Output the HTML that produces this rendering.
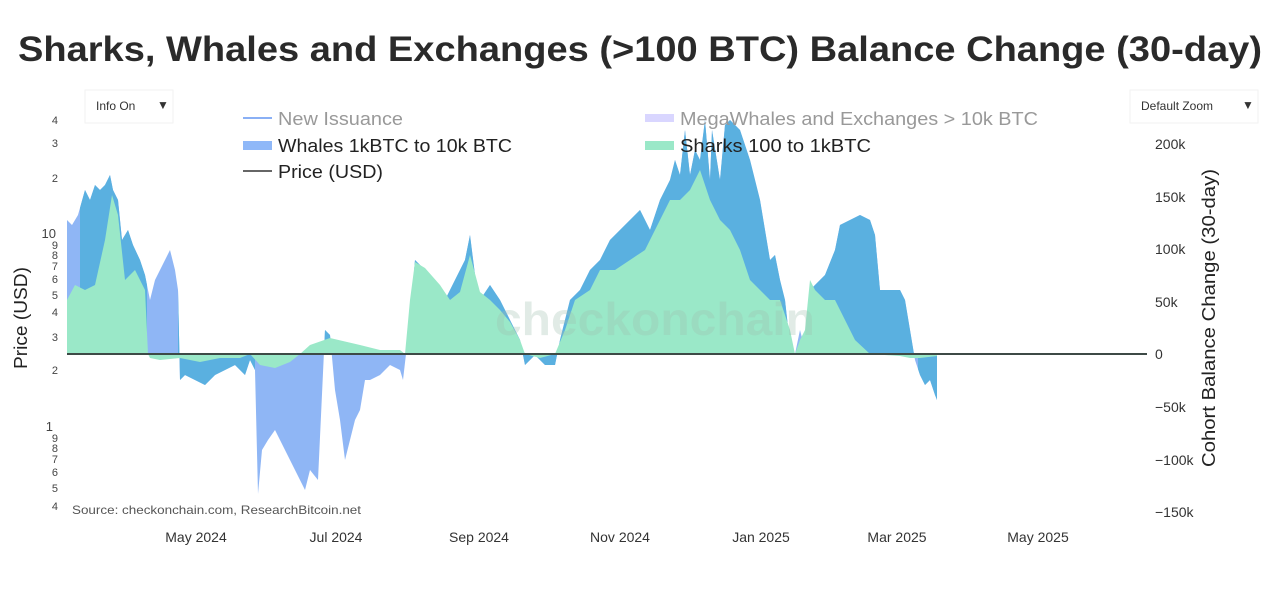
<!DOCTYPE html>
<html><head><meta charset="utf-8"><style>
body{margin:0;background:#fff;width:1280px;height:585px;overflow:hidden;font-family:"Liberation Sans",sans-serif}
</style></head><body>
<svg width="1280" height="585" xmlns="http://www.w3.org/2000/svg" font-family="Liberation Sans, sans-serif">
<defs>
<polygon id="wh" points="67,354 67,220 72,225 78,215 85,190 90,200 95,185 100,190 105,185 110,175 113,190 118,200 122,240 128,230 133,245 140,260 145,275 150,300 155,280 160,270 165,260 170,250 175,270 178,290 180,380 185,375 195,380 205,385 215,375 225,370 235,365 245,375 250,360 255,370 258,494 262,450 268,440 275,430 285,450 295,470 305,490 310,470 318,480 325,330 330,335 335,390 340,420 345,460 350,440 355,420 360,410 365,380 370,380 380,375 390,365 400,370 403,380 406,354 410,320 415,260 425,270 435,290 440,320 445,300 455,280 465,260 470,235 475,275 480,300 490,285 500,300 510,320 520,340 525,365 535,355 545,365 555,365 560,340 570,300 580,290 590,270 600,260 610,240 620,230 630,220 640,210 650,230 660,200 670,180 675,160 680,175 685,130 690,175 695,150 700,160 705,120 710,180 712,130 720,180 725,125 730,120 740,130 750,160 760,200 765,230 770,260 775,255 780,280 785,300 790,345 795,354 800,330 805,350 810,290 815,285 825,275 835,250 840,225 850,220 860,215 870,220 875,235 880,290 890,290 900,290 905,300 910,330 915,360 920,375 925,385 930,380 935,395 937,400 937,354"/>
<clipPath id="dk">
<rect x="80" y="0" width="67" height="354"/>
<rect x="178" y="0" width="77" height="600"/>
<rect x="255" y="0" width="540" height="354"/>
<rect x="515" y="0" width="50" height="600"/>
<rect x="808" y="0" width="110" height="354"/>
<rect x="918" y="0" width="20" height="600"/>
</clipPath>
</defs>
<text x="18" y="61" font-size="35" font-weight="bold" fill="#2a2a2a" textLength="1244" lengthAdjust="spacingAndGlyphs">Sharks, Whales and Exchanges (&gt;100 BTC) Balance Change (30-day)</text>
<rect x="85" y="90" width="88" height="33" fill="#fff" stroke="#f2f2f2"/>
<text x="96" y="110" font-size="12" fill="#333">Info On</text><text x="157" y="109" font-size="12" fill="#333">▼</text>
<rect x="1130" y="90" width="128" height="33" fill="#fff" stroke="#f2f2f2"/>
<text x="1141" y="110" font-size="12" fill="#333">Default Zoom</text><text x="1242" y="109" font-size="12" fill="#333">▼</text>
<use href="#wh" fill="#8fb6f5"/>
<use href="#wh" fill="#5ab0e0" clip-path="url(#dk)"/>
<polygon fill="#9ae8c8" points="67,354 67,300 75,285 85,290 95,285 105,240 112,195 118,215 125,280 135,270 145,290 148,354 150,358 160,360 180,358 200,362 220,358 240,358 250,354 260,365 275,368 290,362 300,354 310,345 330,338 360,345 380,350 400,350 405,354 410,300 415,262 425,268 440,285 450,300 460,292 470,255 480,292 490,300 500,310 510,322 520,340 525,354 540,358 555,354 565,330 575,300 590,290 600,270 615,270 630,260 645,250 660,220 670,200 680,200 690,190 700,170 710,200 720,220 730,230 740,250 750,280 760,290 770,300 780,300 790,330 795,354 800,340 805,330 810,280 815,290 825,300 835,300 845,320 855,340 870,354 900,356 910,358 920,358 937,356 937,354"/>
<text x="495" y="335" font-size="46" font-weight="bold" fill="#9fbfae" opacity="0.3" textLength="320" lengthAdjust="spacingAndGlyphs">checkonchain</text>
<line x1="67" y1="354" x2="1147" y2="354" stroke="#3d4a46" stroke-width="2"/>
<g font-size="11" fill="#444" text-anchor="end">
<text x="58" y="124">4</text><text x="58" y="147">3</text><text x="58" y="182">2</text>
<text x="56" y="238" font-size="13">10</text><text x="58" y="249">9</text><text x="58" y="259">8</text><text x="58" y="270">7</text><text x="58" y="283">6</text><text x="58" y="299">5</text><text x="58" y="316">4</text><text x="58" y="341">3</text><text x="58" y="374">2</text>
<text x="53" y="431" font-size="13">1</text><text x="58" y="442">9</text><text x="58" y="452">8</text><text x="58" y="463">7</text><text x="58" y="476">6</text><text x="58" y="492">5</text><text x="58" y="510">4</text>
</g>
<text transform="translate(27,318) rotate(-90)" text-anchor="middle" font-size="18" fill="#222" textLength="102" lengthAdjust="spacingAndGlyphs">Price (USD)</text>
<g font-size="14" fill="#333">
<text x="1155" y="149">200k</text><text x="1155" y="202">150k</text><text x="1155" y="254">100k</text><text x="1155" y="307">50k</text><text x="1155" y="359">0</text><text x="1155" y="412">−50k</text><text x="1155" y="465">−100k</text><text x="1155" y="517">−150k</text>
</g>
<text transform="translate(1215,318) rotate(-90)" text-anchor="middle" font-size="18" fill="#222" textLength="298" lengthAdjust="spacingAndGlyphs">Cohort Balance Change (30-day)</text>
<g font-size="14" fill="#333" text-anchor="middle">
<text x="196" y="542">May 2024</text><text x="336" y="542">Jul 2024</text><text x="479" y="542">Sep 2024</text><text x="620" y="542">Nov 2024</text><text x="761" y="542">Jan 2025</text><text x="897" y="542">Mar 2025</text><text x="1038" y="542">May 2025</text>
</g>
<text x="72" y="514" font-size="12" fill="#555" textLength="289" lengthAdjust="spacingAndGlyphs">Source: checkonchain.com, ResearchBitcoin.net</text>
<g font-size="18">
<line x1="243" y1="118" x2="272" y2="118" stroke="#8ab0f5" stroke-width="2"/><text x="278" y="125" fill="#999" textLength="125" lengthAdjust="spacingAndGlyphs">New Issuance</text>
<rect x="243" y="141" width="29" height="9" fill="#8fb8f8"/><text x="278" y="152" fill="#222" textLength="234" lengthAdjust="spacingAndGlyphs">Whales 1kBTC to 10k BTC</text>
<line x1="243" y1="171" x2="272" y2="171" stroke="#666" stroke-width="2"/><text x="278" y="178" fill="#222" textLength="105" lengthAdjust="spacingAndGlyphs">Price (USD)</text>
<rect x="645" y="114" width="29" height="8" fill="#d9d6ff"/><text x="680" y="125" fill="#999" textLength="358" lengthAdjust="spacingAndGlyphs">MegaWhales and Exchanges &gt; 10k BTC</text>
<rect x="645" y="141" width="29" height="9" fill="#9ae8c8"/><text x="680" y="152" fill="#222" textLength="191" lengthAdjust="spacingAndGlyphs">Sharks 100 to 1kBTC</text>
</g>
</svg>
</body></html>
